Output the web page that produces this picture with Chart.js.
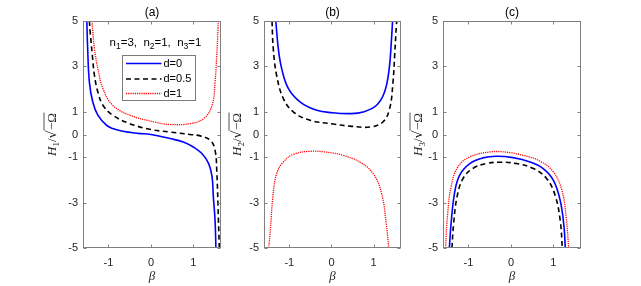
<!DOCTYPE html>
<html>
<head>
<meta charset="utf-8">
<script src="https://cdn.jsdelivr.net/npm/chart.js@4.4.1/dist/chart.umd.min.js"></script>
<style>
  body { margin: 0; background: #fff; }
  #wrap { position: relative; width: 641px; height: 286px; overflow: hidden; background: #fff; }
  #wrap canvas { position: absolute; top: 0; }
</style>
</head>
<body>
<div id="wrap">
  <canvas id="panelA" height="286"></canvas>
  <canvas id="panelB" height="286"></canvas>
  <canvas id="panelC" height="286"></canvas>
</div>
<script>
const yTicks = [-5, -3, -1, 0, 1, 3, 5];
const xTicks = [-1, 0, 1];
const seriesNames = ["d=0", "d=0.5", "d=1"];
const panelTitles = ["(a)", "(b)", "(c)"];
const ySubs = ["1", "2", "3"];

// (a) H1
const a0Beta = [-1.51, -1.49, -1.45, -1.37, -1.25, -1.05, -0.9, -0.66, -0.3, 0, 0.45, 0.76, 1.0, 1.2, 1.36, 1.44, 1.47, 1.51, 1.53];
const a0H = [5, 3.78, 2.31, 1.43, 0.85, 0.41, 0.26, 0.14, 0.05, 0, -0.18, -0.33, -0.55, -0.84, -1.28, -1.87, -2.75, -3.78, -5];
const a1Beta = [-1.45, -1.43, -1.38, -1.33, -1.25, -1.13, -0.9, -0.5, 0, 0.45, 0.92, 1.16, 1.4, 1.51, 1.55, 1.59, 1.61];
const a1H = [5, 4.5, 3.49, 2.6, 1.87, 1.29, 0.85, 0.48, 0.22, 0.11, 0.0, -0.06, -0.26, -0.7, -1.58, -3.78, -5];
const a2Beta = [-1.39, -1.33, -1.25, -1.13, -0.9, -0.5, 0.09, 0.45, 0.92, 1.24, 1.44, 1.51, 1.55, 1.58, 1.585];
const a2H = [5, 3.78, 2.9, 2.02, 1.29, 0.85, 0.55, 0.44, 0.48, 0.7, 1.29, 2.31, 3.49, 4.66, 5];

// (b) H2
const b0Beta = [-1.32, -1.26, -1.18, -1.02, -0.74, -0.35, 0.02, 0.44, 0.75, 1.07, 1.26, 1.37, 1.42, 1.45];
const b0H = [5, 3.78, 2.9, 2.02, 1.43, 1.07, 0.96, 0.92, 0.99, 1.29, 1.87, 2.9, 4.07, 5];
const b1Beta = [-1.41, -1.38, -1.3, -1.14, -0.9, -0.51, 0.05, 0.44, 0.91, 1.22, 1.38, 1.46, 1.5, 1.54, 1.55];
const b1H = [5, 3.78, 2.6, 1.58, 0.99, 0.63, 0.46, 0.37, 0.33, 0.55, 1.14, 2.31, 3.49, 4.81, 5];
const b2Beta = [-1.49, -1.45, -1.39, -1.3, -1.14, -0.9, -0.51, -0.11, 0.28, 0.67, 0.99, 1.19, 1.3, 1.36];
const b2H = [-5, -4.22, -2.75, -1.72, -1.21, -0.87, -0.74, -0.78, -0.92, -1.21, -1.72, -2.6, -3.93, -5];

// (c) H3
const c0Beta = [-1.45, -1.41, -1.33, -1.21, -0.97, -0.66, -0.34, 0.05, 0.45, 0.76, 1.0, 1.16, 1.25, 1.28];
const c0H = [-5, -3.93, -2.6, -1.8, -1.28, -1.03, -0.96, -1.02, -1.21, -1.5, -2.02, -2.9, -4.07, -5];
const c1Beta = [-1.39, -1.35, -1.27, -1.13, -0.9, -0.58, -0.26, 0.13, 0.53, 0.84, 1.04, 1.16, 1.21];
const c1H = [-5, -3.93, -2.75, -1.94, -1.5, -1.28, -1.22, -1.28, -1.5, -1.94, -2.68, -3.78, -5];
const c2Beta = [-1.54, -1.49, -1.41, -1.25, -0.97, -0.5, -0.1, 0.29, 0.68, 1.0, 1.2, 1.3, 1.36];
const c2H = [-5, -3.48, -2.31, -1.43, -0.99, -0.77, -0.78, -0.92, -1.17, -1.65, -2.46, -3.63, -5];

const lineStyles = [
  { borderColor: "#0000ff", borderWidth: 1.6, borderDash: [] },
  { borderColor: "#000000", borderWidth: 1.6, borderDash: [5, 3.5] },
  { borderColor: "#ff0000", borderWidth: 1.3, borderDash: [1.2, 1] },
];

function pts(beta, h) {
  return beta.map((b, i) => ({ x: b, y: h[i] }));
}

const frameColor = "#808080";
const textColor = "#262626";

const framePlugin = {
  id: "frame",
  afterDatasetsDraw(chart) {
    const { ctx, chartArea: a, scales } = chart;
    ctx.save();
    ctx.strokeStyle = frameColor;
    ctx.lineWidth = 1;
    const L = Math.round(a.left) + 0.5, R = Math.round(a.right) - 0.5;
    const T = Math.round(a.top) + 0.5, B = Math.round(a.bottom) - 0.5;
    ctx.strokeRect(L, T, R - L, B - T);
    ctx.beginPath();
    yTicks.forEach((v) => {
      const y = Math.round(scales.y.getPixelForValue(v)) + 0.5;
      ctx.moveTo(L, y); ctx.lineTo(L + 3, y);
      ctx.moveTo(R, y); ctx.lineTo(R - 3, y);
    });
    xTicks.forEach((v) => {
      const x = Math.round(scales.x.getPixelForValue(v)) + 0.5;
      ctx.moveTo(x, B); ctx.lineTo(x, B - 3);
      ctx.moveTo(x, T); ctx.lineTo(x, T + 3);
    });
    ctx.stroke();
    ctx.restore();
  },
};

function drawYLabel(ctx, cx, cy, sub) {
  const parts = [
    { t: "H", f: 'italic 13px "Liberation Serif"', dy: 0 },
    { t: sub, f: '9px "Liberation Serif"', dy: 3 },
    { t: "/", f: '13px "Liberation Serif"', dy: 0 },
    { t: "\u221A", f: '13px "DejaVu Serif"', dy: 0 },
    { t: "\u2212\u03A9", f: '13px "Liberation Serif"', dy: 0, over: true },
  ];
  ctx.save();
  ctx.translate(cx, cy);
  ctx.rotate(-Math.PI / 2);
  ctx.fillStyle = textColor;
  ctx.strokeStyle = textColor;
  ctx.textBaseline = "alphabetic";
  let total = 0;
  parts.forEach((p) => { ctx.font = p.f; p.w = ctx.measureText(p.t).width; total += p.w; });
  let x = -total / 2;
  const base = 4.5;
  parts.forEach((p) => {
    ctx.font = p.f;
    ctx.fillText(p.t, x, base + p.dy);
    if (p.over) {
      ctx.lineWidth = 0.8;
      ctx.beginPath();
      ctx.moveTo(x - 0.5, base - 11.5);
      ctx.lineTo(x + p.w + 0.5, base - 11.5);
      ctx.stroke();
    }
    x += p.w;
  });
  ctx.restore();
}

const labelPlugin = {
  id: "labels",
  afterDraw(chart) {
    const { ctx, chartArea: a } = chart;
    const o = chart.options.plugins.labels;
    ctx.save();
    ctx.fillStyle = "#000";
    ctx.font = '12px "Liberation Sans"';
    ctx.textAlign = "center";
    ctx.textBaseline = "middle";
    ctx.fillText(o.title, (a.left + a.right) / 2, 13);
    ctx.restore();
    drawYLabel(ctx, a.left + o.yLabelDx, (a.top + a.bottom) / 2, o.sub);
  },
};

function drawSubText(ctx, x, y, segs) {
  let cx = x;
  segs.forEach((s) => {
    ctx.font = s.sub ? '8.5px "Liberation Sans"' : '11.5px "Liberation Sans"';
    ctx.fillText(s.t, cx, y + (s.sub ? 3.5 : 0));
    cx += ctx.measureText(s.t).width;
  });
  return cx - x;
}

const legendPlugin = {
  id: "boxLegend",
  afterDraw(chart) {
    const o = chart.options.plugins.boxLegend;
    if (!o || !o.show) return;
    const { ctx, chartArea: a } = chart;
    const ox = a.left - 83;
    ctx.save();
    // header n1, n2, n3
    ctx.fillStyle = "#000";
    ctx.textBaseline = "middle";
    ctx.textAlign = "left";
    const segs = [
      { t: "n" }, { t: "1", sub: true }, { t: "=3,  " },
      { t: "n" }, { t: "2", sub: true }, { t: "=1,  " },
      { t: "n" }, { t: "3", sub: true }, { t: "=1" },
    ];
    ctx.globalAlpha = 0;
    const w = drawSubText(ctx, 0, 0, segs);
    ctx.globalAlpha = 1;
    drawSubText(ctx, ox + 155.5 - w / 2, 43, segs);
    // box
    const bx = ox + 122.5, by = 55.5, bw = 73, bh = 45;
    ctx.fillStyle = "#fff";
    ctx.fillRect(bx, by, bw, bh);
    ctx.strokeStyle = "#7a7a7a";
    ctx.lineWidth = 1;
    ctx.strokeRect(bx, by, bw, bh);
    const rows = [63.5, 79, 93.5];
    chart.data.datasets.forEach((ds, i) => {
      ctx.save();
      ctx.strokeStyle = ds.borderColor;
      ctx.lineWidth = ds.borderWidth;
      ctx.setLineDash(ds.borderDash);
      ctx.beginPath();
      ctx.moveTo(ox + 126, rows[i]);
      ctx.lineTo(ox + 161.5, rows[i]);
      ctx.stroke();
      ctx.restore();
      ctx.fillStyle = "#000";
      ctx.font = '11px "Liberation Sans"';
      ctx.fillText(ds.label, ox + 163.5, rows[i]);
    });
    ctx.restore();
  },
};

function makePanel(id, areaLeft, areaRight, series, idx, yLabelDx, showLegend) {
  const canvas = document.getElementById(id);
  const left = areaLeft - 60;
  canvas.style.left = left + "px";
  canvas.width = areaRight - areaLeft + 72;
  canvas.height = 286;

  const datasets = series.map((s, i) => ({
    label: seriesNames[i],
    data: pts(s[0], s[1]),
    borderColor: lineStyles[i].borderColor,
    borderWidth: lineStyles[i].borderWidth,
    borderDash: lineStyles[i].borderDash,
    pointRadius: 0,
    fill: false,
    tension: 0.4,
  }));

  new Chart(canvas.getContext("2d"), {
    type: "line",
    data: { datasets },
    options: {
      responsive: false,
      animation: false,
      devicePixelRatio: 1,
      layout: { padding: { left: 20, right: 12, top: 21, bottom: 0 } },
      plugins: {
        legend: { display: false },
        tooltip: { enabled: false },
        labels: { title: panelTitles[idx], sub: ySubs[idx], yLabelDx },
        boxLegend: { show: showLegend },
      },
      scales: {
        x: {
          type: "linear",
          min: -1.6,
          max: 1.65,
          afterBuildTicks: (s) => { s.ticks = xTicks.map((v) => ({ value: v })); },
          afterFit: (s) => { s.height = 38; },
          grid: { display: false, drawTicks: false },
          border: { display: false },
          ticks: {
            padding: 8,
            color: textColor,
            font: { family: "Liberation Sans", size: 11 },
          },
          title: {
            display: true,
            text: "\u03B2",
            color: textColor,
            font: { family: "Liberation Serif", size: 13, style: "italic" },
            padding: { top: 0, bottom: 2 },
          },
        },
        y: {
          type: "linear",
          min: -5,
          max: 5,
          afterBuildTicks: (s) => { s.ticks = yTicks.map((v) => ({ value: v })); },
          afterFit: (s) => { s.width = 40; },
          grid: { display: false, drawTicks: false },
          border: { display: false },
          ticks: {
            padding: 5,
            color: textColor,
            font: { family: "Liberation Sans", size: 11 },
          },
        },
      },
    },
    plugins: [framePlugin, labelPlugin, legendPlugin],
  });
}

makePanel("panelA", 83, 221, [[a0Beta, a0H], [a1Beta, a1H], [a2Beta, a2H]], 0, -32, true);
makePanel("panelB", 264, 401, [[b0Beta, b0H], [b1Beta, b1H], [b2Beta, b2H]], 1, -28, false);
makePanel("panelC", 443, 581, [[c0Beta, c0H], [c1Beta, c1H], [c2Beta, c2H]], 2, -26, false);
</script>
</body>
</html>
